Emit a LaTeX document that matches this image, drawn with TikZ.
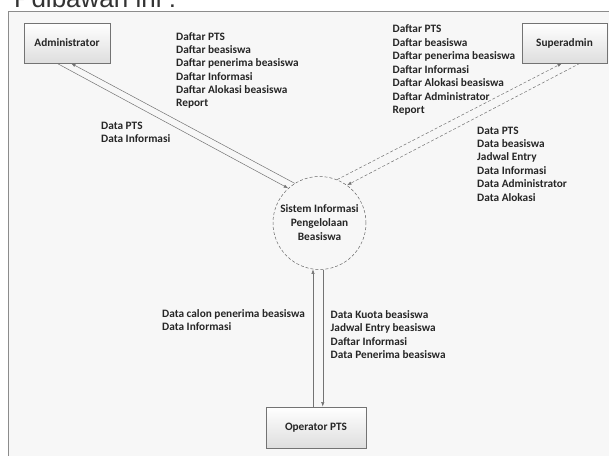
\documentclass[tikz,border=0pt]{standalone}
\usepackage{fontspec}
\setmainfont{Carlito}
\newfontfamily\toptxt{Liberation Sans}
\usetikzlibrary{calc,shadows,arrows.meta}
\begin{document}
\begin{tikzpicture}[x=1pt,y=-1pt,
  lbl/.style={font=\fontsize{11.3}{12}\selectfont\bfseries, text=black!85, inner sep=0pt, anchor=base west},
  ent/.style={draw=black!55, line width=0.6pt, top color=white, bottom color=black!13,
    drop shadow={shadow xshift=1.2pt, shadow yshift=-1.2pt, opacity=0.35},
    font=\fontsize{11.3}{12}\selectfont\bfseries, text=black!85, inner sep=0pt},
  proc/.style={circle, draw=black!60, densely dashed, line width=0.5pt, fill=black!3,
    minimum size=93pt, inner sep=0pt, align=center,
    font=\fontsize{11.3}{14}\selectfont\bfseries, text=black!85},
  flow/.style={draw=black!55, line width=0.5pt, -{Latex[length=4.5pt,width=3.2pt]}},
  dflow/.style={flow, densely dashed}
]
\useasboundingbox (0,0) rectangle (609,455);
% page background and frame
\fill[white] (0,0) rectangle (609,455);
\draw[draw=black!45, fill=black!3, line width=0.6pt] (8,11) rectangle (640,480);
% cut-off caption text
\node[font=\toptxt\fontsize{26}{30}\selectfont, anchor=base west, inner sep=0pt, text=black!80] (cap) at (14,8) {Pdibawah ini :};

% entities
\node[ent, minimum width=86pt, minimum height=40pt] (adm) at (67,43) {Administrator};
\node[ent, minimum width=85pt, minimum height=40pt] (sup) at (564.5,43) {Superadmin};
\node[ent, minimum width=100pt, minimum height=41pt] (opb) at (316,427.5) {Operator PTS};
\node[proc] (sys) at (319.5,223) {Sistem Informasi\\Pengelolaan\\Beasiswa};

% flows
\draw[flow] ($(adm.south)+(-10,0)$) -- (sys.132);
\draw[flow] (sys.122) -- ($(adm.south)+(4,0)$);
\draw[dflow] (sys.68) -- ($(sup.south)+(-2.5,0)$);
\draw[dflow] ($(sup.south)+(15.5,0)$) -- (sys.54);
\draw[flow] (sys.262 |- opb.north) -- (sys.262);
\draw[flow] (sys.274) -- (sys.274 |- opb.north);

% labels
\foreach \t [count=\i from 0] in {Daftar PTS, Daftar beasiswa, Daftar penerima beasiswa, Daftar Informasi, Daftar Alokasi beasiswa, Report}
  \node[lbl] (ta\i) at (176, 40+13.35*\i) {\t};
\foreach \t [count=\i from 0] in {Daftar PTS, Daftar beasiswa, Daftar penerima beasiswa, Daftar Informasi, Daftar Alokasi beasiswa, Daftar Administrator, Report}
  \node[lbl] (ts\i) at (392.5, 32.8+13.5*\i) {\t};
\foreach \t [count=\i from 0] in {Data PTS, Data Informasi}
  \node[lbl] (da\i) at (101, 129+13.35*\i) {\t};
\foreach \t [count=\i from 0] in {Data PTS, Data beasiswa, Jadwal Entry, Data Informasi, Data Administrator, Data Alokasi}
  \node[lbl] (ds\i) at (477, 134+13.4*\i) {\t};
\foreach \t [count=\i from 0] in {Data calon penerima beasiswa, Data Informasi}
  \node[lbl] (do\i) at (162, 317.2+13.4*\i) {\t};
\foreach \t [count=\i from 0] in {Data Kuota beasiswa, Jadwal Entry beasiswa, Daftar Informasi, Data Penerima beasiswa}
  \node[lbl] (dp\i) at (330.5, 318.2+13.55*\i) {\t};
\end{tikzpicture}
\end{document}
